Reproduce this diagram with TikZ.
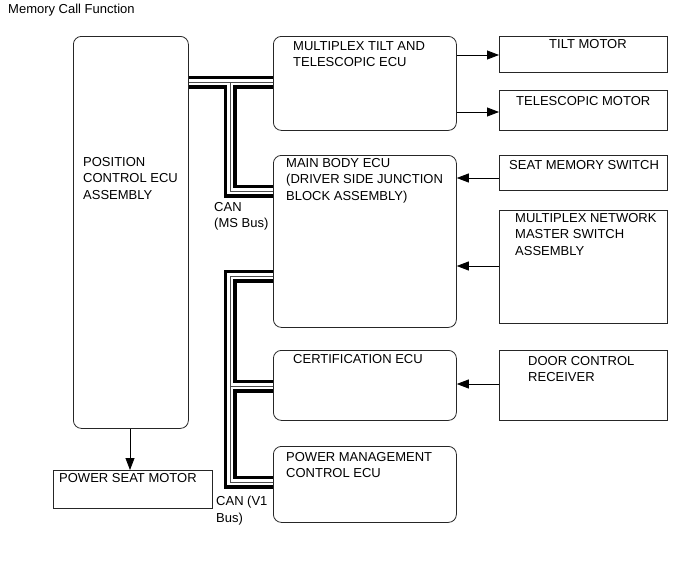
\documentclass[tikz,border=0pt]{standalone}
\usepackage{fontspec}
\setmainfont{Liberation Sans}
\usetikzlibrary{arrows.meta,calc}
\begin{document}
\begin{tikzpicture}[x=1pt,y=-1pt,
  box/.style={draw=black!85, line width=0.8pt, rounded corners=8pt, anchor=north west, inner sep=0pt},
  sq/.style={draw=black!85, line width=0.8pt, anchor=north west, inner sep=0pt},
  lbl/.style={anchor=north west, inner sep=0pt, align=left, font=\fontsize{13}{16.5}\selectfont},
  arr/.style={-{Triangle[length=12pt,width=9pt]}, line width=0.8pt},
]
\useasboundingbox[fill=white] (0,0) rectangle (690,565);

% title
\node[lbl] (title) at (8,4) {Memory Call Function};

% boxes
\node[box, minimum width=115pt, minimum height=392pt] (pos) at (73,36) {};
\node[sq, minimum width=159pt, minimum height=38pt] (psm) at (53,470) {};
\node[box, minimum width=183pt, minimum height=94pt] (tilt) at (273,36) {};
\node[sq, minimum width=168pt, minimum height=36pt] (tm) at (499,36) {};
\node[sq, minimum width=168pt, minimum height=40pt] (telm) at (499,90) {};
\node[box, minimum width=183pt, minimum height=172pt] (mb) at (273,155) {};
\node[sq, minimum width=168pt, minimum height=35pt] (sms) at (499,155) {};
\node[sq, minimum width=168pt, minimum height=113pt] (mnm) at (499,210) {};
\node[box, minimum width=183pt, minimum height=70pt] (cert) at (273,350) {};
\node[sq, minimum width=168pt, minimum height=70pt] (dcr) at (499,350) {};
\node[box, minimum width=183pt, minimum height=76pt] (pm) at (273,446) {};

% labels
\node[lbl] (posl) at (83,157) {POSITION\\CONTROL ECU\\ASSEMBLY};
\node[lbl] (psml) at (59,473) {POWER SEAT MOTOR};
\node[lbl] (tiltl) at (293,41) {MULTIPLEX TILT AND\\TELESCOPIC ECU};
\node[lbl] (tml) at (549,39) {TILT MOTOR};
\node[lbl] (telml) at (516,96) {TELESCOPIC MOTOR};
\node[lbl] (mbl) at (286,158) {MAIN BODY ECU\\(DRIVER SIDE JUNCTION\\BLOCK ASSEMBLY)};
\node[lbl] (smsl) at (509,160) {SEAT MEMORY SWITCH};
\node[lbl] (mnml) at (515,213) {MULTIPLEX NETWORK\\MASTER SWITCH\\ASSEMBLY};
\node[lbl] (certl) at (293,354) {CERTIFICATION ECU};
\node[lbl] (dcrl) at (528,356) {DOOR CONTROL\\RECEIVER};
\node[lbl] (pml) at (286,452) {POWER MANAGEMENT\\CONTROL ECU};
\node[lbl] (can1) at (214,202) {CAN\\(MS Bus)};
\node[lbl] (can2) at (216,496) {CAN (V1\\Bus)};

% arrows
\draw[arr] (tilt.east |- 0,55) -- (tm.west |- 0,55);
\draw[arr] (tilt.east |- 0,112) -- (telm.west |- 0,112);
\draw[arr] (sms.west |- 0,178) -- (mb.east |- 0,178);
\draw[arr] (mnm.west |- 0,266) -- (mb.east |- 0,266);
\draw[arr] (dcr.west |- 0,384) -- (cert.east |- 0,384);
\draw[arr] (pos.south -| 130,0) -- (psm.north -| 130,0);

% CAN buses
\coordinate (a1) at (pos.east |- 0,82);
\coordinate (a2) at (tilt.west |- 0,82);
\coordinate (a3) at (230,82);
\coordinate (a4) at (230,191);
\coordinate (a5) at (mb.west |- 0,191);
\coordinate (b1) at (mb.west |- 0,276);
\coordinate (b2) at (230,276);
\coordinate (b3) at (230,482);
\coordinate (b4) at (pm.west |- 0,482);
\coordinate (b5) at (230,386);
\coordinate (b6) at (cert.west |- 0,386);
\newcommand\buspaths[1]{%
  \draw[#1] (a1) -- (a2);
  \draw[#1] (a3) -- (a4) -- (a5);
  \draw[#1] (b1) -- (b2) -- (b3) -- (b4);
  \draw[#1] (b5) -- (b6);
}
\buspaths{line width=13pt, black, line join=miter}
\buspaths{line width=6pt, white, line join=miter}
\buspaths{line width=0.9pt, black!70, line join=miter}
\end{tikzpicture}
\end{document}
